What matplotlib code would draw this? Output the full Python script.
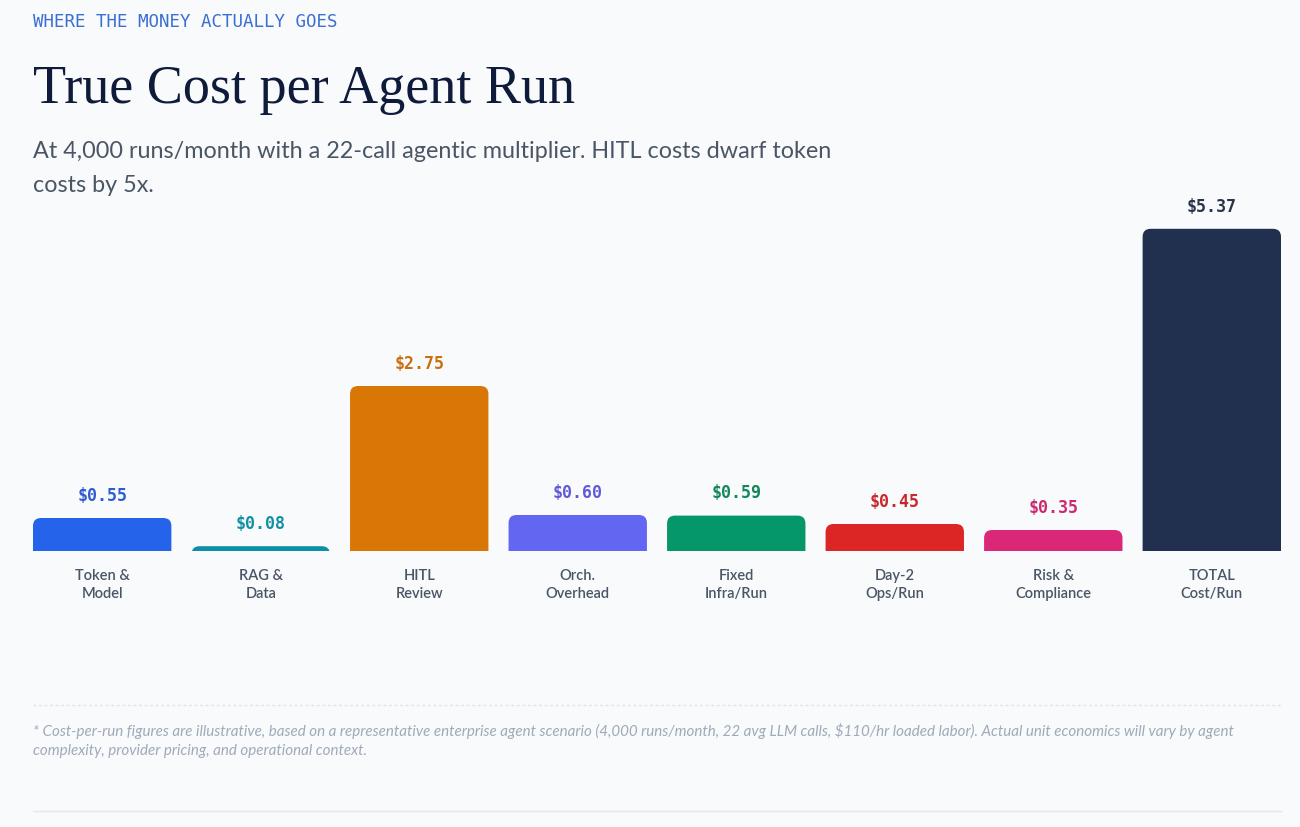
import numpy as np
import matplotlib
matplotlib.use('Agg')
import matplotlib.pyplot as plt
from matplotlib.patches import FancyBboxPatch

# data
categories = ['Token &\nModel', 'RAG &\nData', 'HITL\nReview', 'Orch.\nOverhead',
              'Fixed\nInfra/Run', 'Day-2\nOps/Run', 'Risk &\nCompliance', 'TOTAL\nCost/Run']
costs = [0.55, 0.08, 2.75, 0.60, 0.59, 0.45, 0.35, 5.37]
value_labels = ['$0.55', '$0.08', '$2.75', '$0.60', '$0.59', '$0.45', '$0.35', '$5.37']

bar_colors = ['#2563eb', '#0e8fa8', '#d97706', '#6366f1', '#059669', '#dc2626', '#db2777', '#22304f']
label_colors = ['#2f5bd3', '#1290a3', '#c8700c', '#5f5ad8', '#12875a', '#c8282b', '#c92a70', '#2a3448']

bg = '#f8fafc'
W, H = 1300, 827
fig = plt.figure(figsize=(13, 8.27), dpi=100, facecolor=bg)

# header texts
fig.text(33 / W, 1 - 22 / H, 'WHERE THE MONEY ACTUALLY GOES', family='DejaVu Sans Mono',
         fontsize=12.6, color='#3b6fd4', va='center', ha='left')
fig.text(33 / W, 1 - 103 / H, 'True Cost per Agent Run', family='Liberation Serif',
         fontsize=39, color='#0f1b3a', va='baseline', ha='left')
fig.text(33 / W, 1 - 152 / H, 'At 4,000 runs/month with a 22-call agentic multiplier. HITL costs dwarf token',
         family='Lato', fontsize=16.8, color='#4a5565', va='center', ha='left')
fig.text(33 / W, 1 - 186 / H, 'costs by 5x.',
         family='Lato', fontsize=16.8, color='#4a5565', va='center', ha='left')

# bar chart area: baseline at y=551 px, bars from x=33 to x=1281
bw = 0.873
x = np.arange(len(costs))
ax = fig.add_axes([33 / W, 276 / H, 1248 / W, 336 / H])
ax.set_facecolor('none')
ax.set_xlim(-bw / 2, len(costs) - 1 + bw / 2)
ax.set_ylim(0, 5.6)
for s in ax.spines.values():
    s.set_visible(False)
ax.set_xticks([])
ax.set_yticks([])

rx = 8 / 158.3
ry = 8 / 60.0
for i in range(len(costs)):
    p = FancyBboxPatch((x[i] - bw / 2, -ry), bw, costs[i] + ry,
                       boxstyle='round,pad=0,rounding_size=%f' % rx,
                       mutation_aspect=ry / rx, facecolor=bar_colors[i],
                       edgecolor='none', clip_on=True)
    ax.add_patch(p)
    ax.annotate(value_labels[i], (x[i], costs[i]), xytext=(0, 16), textcoords='offset points',
                ha='center', va='center', family='DejaVu Sans Mono', fontweight='bold',
                fontsize=12, color=label_colors[i], annotation_clip=False)
    ax.annotate(categories[i], (x[i], 0), xytext=(0, -13), textcoords='offset points',
                ha='center', va='top', family='Lato', fontweight='semibold', fontsize=10.5,
                color='#4a5565', linespacing=1.32, annotation_clip=False)

# footnote area
fig.add_artist(plt.Line2D([33 / W, 1281 / W], [1 - 705 / H, 1 - 705 / H], color='#dfe4ea',
                          lw=1, ls=(0, (2, 2))))
fig.text(33 / W, 1 - 731 / H,
         '* Cost-per-run figures are illustrative, based on a representative enterprise agent scenario '
         '(4,000 runs/month, 22 avg LLM calls, $110/hr loaded labor). Actual unit economics will vary by agent',
         family='Lato', style='italic', fontsize=10.9, color='#a0aab8', va='center', ha='left')
fig.text(33 / W, 1 - 751 / H, 'complexity, provider pricing, and operational context.',
         family='Lato', style='italic', fontsize=10.9, color='#a0aab8', va='center', ha='left')
fig.add_artist(plt.Line2D([33 / W, 1281 / W], [1 - 811 / H, 1 - 811 / H], color='#e2e8f0', lw=1))

fig.savefig('out.png', dpi=100, facecolor=bg)
